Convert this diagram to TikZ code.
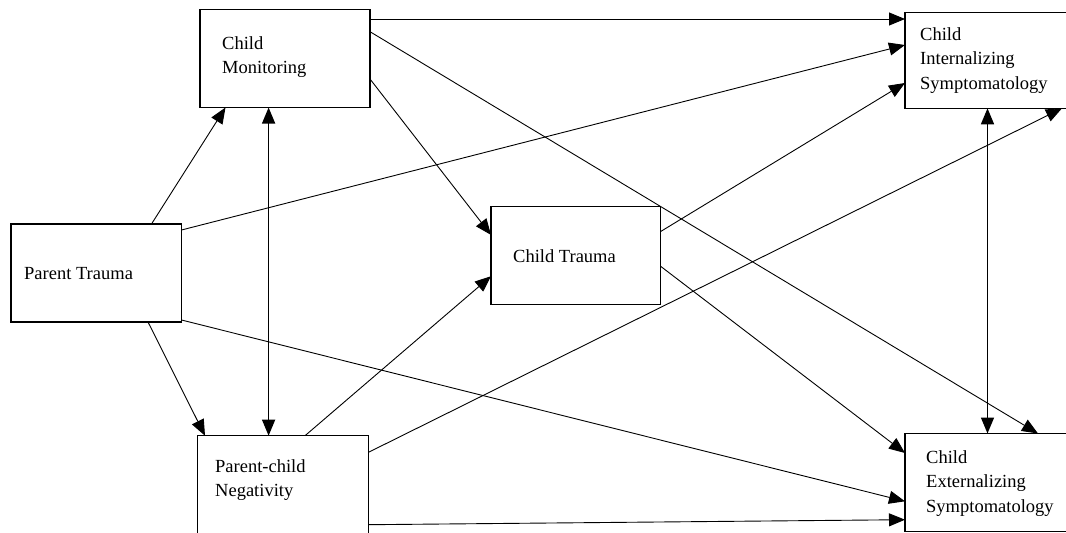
\documentclass[tikz,border=0pt]{standalone}
\usepackage{fontspec}
\setmainfont{Liberation Serif}
\usetikzlibrary{arrows.meta,calc}
\begin{document}
\begin{tikzpicture}[x=1pt,y=-1pt,
  box/.style={draw,line width=1.2pt,rectangle,inner sep=0pt,outer sep=0pt},
  lbl/.style={anchor=base west,align=left,inner sep=0pt,
    font=\fontsize{18.5}{24.5}\selectfont},
  path/.style={line width=0.9pt,-{Triangle[length=16pt,width=13pt]}},
  both/.style={line width=1.4pt,{Triangle[length=16pt,width=13pt]}-{Triangle[length=16pt,width=13pt]}}]
\useasboundingbox (0,0) rectangle (1066,533);
\fill[white] (0,0) rectangle (1066,533);
\clip (0,0) rectangle (1066,533);

% boxes
\node[box,minimum width=170pt,minimum height=98pt] (cm) at (285,58.5) {};
\node[box,minimum width=170.5pt,minimum height=98pt] (pt) at (96.25,273) {};
\node[box,minimum width=169.5pt,minimum height=98pt] (ct) at (575.75,255.6) {};
\node[box,minimum width=171pt,minimum height=99pt] (pn) at (283,485.2) {};
\node[box,minimum width=170pt,minimum height=96pt] (ci) at (990,60.3) {};
\node[box,minimum width=170pt,minimum height=98pt] (ce) at (990,482.5) {};

% box texts (anchored on the baseline of their last line)
\node[lbl] (cmT) at (222,73.5) {Child\\Monitoring};
\node[lbl] (ptT) at (24,279) {Parent Trauma};
\node[lbl] (ctT) at (513,262) {Child Trauma};
\node[lbl] (pnT) at (215,496.5) {Parent-child\\Negativity};
\node[lbl] (ciT) at (920,89) {Child\\Internalizing\\Symptomatology};
\node[lbl] (ceT) at (926,512) {Child\\Externalizing\\Symptomatology};

% paths
\draw[path] ($(pt.north west)+(140.5,0)$) -- ($(cm.south west)+(25.5,0)$);
\draw[path] ($(pt.south west)+(137,0)$) -- ($(pn.north west)+(7.5,0)$);
\draw[path] ($(pt.north east)+(0,6)$) -- ($(ci.north west)+(0,32.7)$);
\draw[path] ($(pt.south east)+(0,-2)$) -- ($(ce.north west)+(0,67.8)$);
\draw[path] ($(cm.north east)+(0,9.5)$) -- ($(ci.north west)+(0,6.7)$);
\draw[path] ($(cm.north east)+(0,69.5)$) -- ($(ct.north west)+(0,28.3)$);
\draw[path] ($(cm.north east)+(0,22.2)$) -- ($(ce.north west)+(133,0)$);
\draw[path] ($(pn.north west)+(107.5,0)$) -- ($(ct.north west)+(0,69.6)$);
\draw[path] ($(pn.north east)+(0,16.6)$) -- ($(ci.south west)+(157,0)$);
\draw[path] ($(pn.north east)+(0,89)$) -- ($(ce.north west)+(0,86.2)$);
\draw[path] ($(ct.north east)+(0,25)$) -- ($(ci.north west)+(0,70.7)$);
\draw[path] ($(ct.north east)+(0,59.6)$) -- ($(ce.north west)+(0,19.5)$);

% correlations
\coordinate (cmb) at ($(cm.south west)+(68.6,0)$);
\draw[both] (cmb) -- (cmb |- pn.north);
\coordinate (cib) at ($(ci.south west)+(82.5,0)$);
\draw[both] (cib) -- (cib |- ce.north);
\end{tikzpicture}
\end{document}
